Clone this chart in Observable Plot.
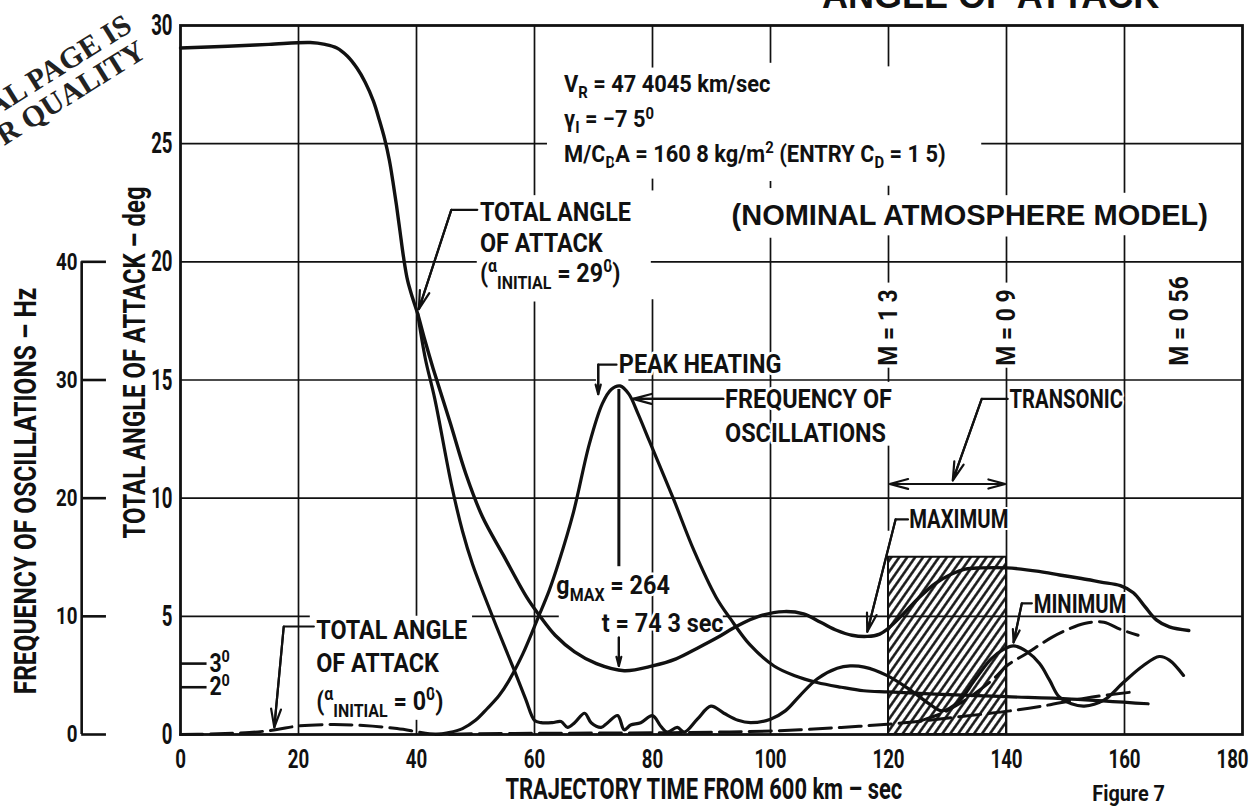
<!DOCTYPE html>
<html>
<head>
<meta charset="utf-8">
<script src="https://cdn.jsdelivr.net/npm/d3@7"></script>
<script src="https://cdn.jsdelivr.net/npm/@observablehq/plot@0.6"></script>
<style>
html,body{margin:0;padding:0;background:#fff;}
svg{display:block;}
</style>
</head>
<body>
<div id="chart"></div>
<script>
// ---------------- data ----------------
const timeTicks = [0, 20, 40, 60, 80, 100, 120, 140, 160, 180];
const angleTicks = [0, 5, 10, 15, 20, 25, 30];
const freqTicksHz = [0, 10, 20, 30, 40];
const smallAngleMarks = [3, 2];

// total angle of attack, alpha initial = 29 deg : maximum envelope [time s, deg]
const maxAngle29 = [[0,29.05],[8,29.12],[15,29.2],[22,29.28],[24.5,29.2],[26.5,29.05],[28.3,28.7],[29.9,28.2],[31.3,27.6],[32.7,26.8],[33.7,26.0],[34.6,25.2],[35.4,24.3],[36.0,23.4],[36.6,22.4],[37.2,21.3],[37.8,20.2],[38.5,19.2],[39.3,18.5],[40.2,17.8],[41.4,16.7],[42.8,15.5],[45.7,13.2],[48.4,11.0],[51.2,9.2],[54.7,7.6],[58.7,5.8],[60.8,5.05],[63.5,4.2],[66.8,3.5],[70.5,3.0],[75.2,2.7],[80,2.9],[84,3.2],[87.6,3.65],[91,4.1],[94.4,4.6],[98,5.0],[102.3,5.2],[105.6,5.1],[108.5,4.75],[111.3,4.4],[113.8,4.2],[116.4,4.15],[118.5,4.25],[120,4.5],[122.5,5.1],[125.2,5.8],[128,6.4],[130.8,6.8],[133,7.0],[135.7,7.05],[140,7.05],[145.5,6.9],[149,6.75],[152.7,6.6],[156,6.45],[159.3,6.3],[161.5,6.0],[163.5,5.4],[165.4,4.85],[167.6,4.55],[170.9,4.4]];
// minimum envelope (oscillating) [time s, deg]
const minAngle29 = [[40.2,17.8],[41.5,15.9],[43.1,14.2],[45.9,10.6],[47.8,8.6],[49.5,7.2],[51.3,6.0],[53.5,4.6],[56.6,2.7],[58.5,1.5],[60,0.6],[61.1,0.5],[63,0.5],[64.5,0.55],[65.6,0.3],[66.8,0.5],[68.5,0.9],[69.6,0.5],[71.3,0.3],[72.4,0.5],[74.1,0.8],[75.2,0.2],[76.3,0.4],[78,0.5],[80,0.8],[81.4,0.35],[82.5,0.1],[84.2,0.3],[85.4,0.1],[87.6,0.65],[89.9,1.2],[92.1,0.9],[94.5,0.6],[96.6,0.5],[100,0.65],[102.5,1.0],[105,1.65],[107.9,2.35],[111.3,2.8],[113.5,2.9],[115.9,2.85],[119.7,2.5],[123.6,1.9],[126.9,1.3],[129.1,1.0],[131.9,1.4],[134.6,2.3],[137.4,3.2],[139.5,3.6],[141.2,3.75],[143.5,3.5],[145.6,3.0],[147.3,2.3],[148.9,1.6],[151,1.3],[153.2,1.2],[156.5,1.45],[159.8,2.2],[163.1,2.9],[165.9,3.3],[167.6,3.15],[170,2.5]];
// frequency of oscillations [time s, Hz]
const freqOscHz = [[43.3,0],[45.5,0.16],[47.8,0.5],[50,1.2],[52,2.2],[54,3.3],[55.6,4.5],[58,6.8],[60.7,10.0],[62.5,12.2],[64,14.4],[66.6,18.8],[69.3,24.6],[71.5,28.0],[73,29.2],[74.5,29.5],[76,28.8],[77.5,27.2],[79.5,24.8],[83.5,20.0],[87,15.6],[90.8,11.6],[93.2,9.8],[96.5,7.6],[100.6,5.8],[104,5.0],[107.9,4.4],[112,4.0],[115.8,3.7],[120,3.6],[129,3.4],[140,3.2],[151,3.0],[164,2.6]];
// total angle of attack, alpha initial = 0 deg (dashed) [time s, deg]
const angle0Lower = [[0,0],[5,0.02],[8.9,0.05],[11.7,0.08],[16.1,0.2],[20,0.36],[25.6,0.42],[31,0.38],[36.7,0.25],[40,0.12],[42.2,0.03],[50,0.03],[60,0.05],[70,0.06],[80,0.07],[90,0.1],[96,0.12],[105,0.2],[112,0.3],[118,0.4],[125,0.55],[132,0.75],[140.6,1.0],[146,1.2],[153.6,1.55],[161.4,1.8]];
const angle0Upper = [[125,0.55],[129,0.9],[132,1.3],[135,1.8],[138,2.4],[140,2.9],[143.2,3.4],[147.6,4.1],[150,4.4],[153.2,4.7],[156.5,4.75],[159.3,4.45],[162.3,4.2]];

const transonic = {start: 120, end: 140, top: 7.5, arrowAt: 10.6, arrowFrom: 130.9};
const peakTime = 74.3;
const peakLine = {from: 7.1, to: 14.6};
const machLines = [{t: 120, label: "M = 1 3"}, {t: 140, label: "M = 0 9"}, {t: 169.3, label: "M = 0 56"}];
const machBase = 15.6;

// grid segments (time or angle values)
const gridVertical = [
  {t:20, from:0, to:30},
  {t:40, from:0, to:0.6}, {t:40, from:5, to:30},
  {t:60, from:0, to:18.3}, {t:60, from:22.8, to:30},
  {t:80, from:0, to:18.4}, {t:80, from:23.0, to:23.5}, {t:80, from:28.2, to:30},
  {t:100, from:0, to:21.0}, {t:100, from:23.1, to:23.4}, {t:100, from:28.4, to:30},
  {t:120, from:8.6, to:12.2}, {t:120, from:14.9, to:15.5}, {t:120, from:19.1, to:21.1}, {t:120, from:22.8, to:23.2}, {t:120, from:28.25, to:30},
  {t:140, from:0, to:15.5}, {t:140, from:19.1, to:21.05}, {t:140, from:22.8, to:30},
  {t:160, from:0, to:21.1}, {t:160, from:22.9, to:30}
];
const gridHorizontal = [
  {a:5, from:0, to:22}, {a:5, from:49.5, to:64.2}, {a:5, from:92, to:180},
  {a:10, from:0, to:180},
  {a:15, from:0, to:70.5}, {a:15, from:76, to:180},
  {a:20, from:0, to:50.3}, {a:20, from:79.8, to:180},
  {a:25, from:0, to:62.2}, {a:25, from:135.8, to:180}
];

// annotation texts
const calloutLabels = [
  {x:50.75, y:22.1, text:"TOTAL ANGLE"},
  {x:50.75, y:20.75, text:"OF ATTACK"},
  {x:50.75, y:19.5, text:"(^{α}_{INITIAL} = 29^{0})"},
  {x:23.0, y:4.4, text:"TOTAL ANGLE"},
  {x:23.0, y:3.0, text:"OF ATTACK"},
  {x:23.0, y:1.4, text:"(^{α}_{INITIAL} = 0^{0})"},
  {x:74.3, y:15.63, text:"PEAK HEATING"},
  {x:92.3, y:14.15, text:"FREQUENCY OF"},
  {x:92.3, y:12.75, text:"OSCILLATIONS"},
  {x:63.7, y:6.28, text:"g_{MAX} = 264"},
  {x:71.4, y:4.7, text:"t = 74 3 sec"}
];
const regionLabels = [
  {x:140.5, y:14.15, text:"TRANSONIC"},
  {x:123.5, y:9.07, text:"MAXIMUM"},
  {x:144.6, y:5.5, text:"MINIMUM"}
];
const paramLines = [
  {x:65, y:27.5, text:"V_{R} = 47 4045 km/sec"},
  {x:65, y:26.0, text:"γ_{I} = −7 5^{0}"},
  {x:65, y:24.55, text:"M/C_{D}A = 160 8 kg/m^{2} (ENTRY C_{D} = 1 5)"}
];
const modelNote = {x:93.4, y:21.95, text:"(NOMINAL ATMOSPHERE MODEL)"};
const leaders = [
  {id:"a29", pts:[[50.3,22.2],[45.9,22.2],[40.4,18.0]]},
  {id:"a0", pts:[[22.6,4.57],[17.5,4.57],[15.9,0.3]]},
  {id:"peak", pts:[[73.9,15.65],[70.8,15.65],[70.8,14.4]]},
  {id:"freq", pts:[[92.0,14.2],[76.7,14.2]]},
  {id:"trans", pts:[[140.2,14.2],[135.8,14.2],[130.9,10.75]]},
  {id:"max", pts:[[123.3,9.1],[121.2,9.1],[116.4,4.35]]},
  {id:"min", pts:[[144.3,5.55],[142.6,5.55],[141.2,3.9]]},
  {id:"tmark", pts:[[74.3,4.1],[74.3,2.9]]}
];
const titles = {
  x: {x:88.7, y:-2.33, text:"TRAJECTORY TIME FROM 600 km – sec"},
  angle: {x:-7.62, y:15.74, text:"TOTAL ANGLE OF ATTACK – deg"},
  freq: {x:-26.24, y:10.3, text:"FREQUENCY OF OSCILLATIONS – Hz"},
  top: {x:165.9, y:30.72, text:"ANGLE OF ATTACK"},
  figure: {x:160.7, y:-2.5, text:"Figure 7"}
};
const stamp = [
  {x:-7.96, y:29.8, text:"ORIGINAL PAGE IS"},
  {x:-5.59, y:28.7, text:"OF POOR QUALITY"}
];
const HZ_AXIS_X = -16.75;

// ---------------- drawing ----------------
const COND = "Roboto, 'Liberation Sans', Arial, sans-serif";
const INK = "#111";
const sq = f => `sq${f}`;
const flatLeaders = leaders.flatMap(l => l.pts.map(([x, y]) => ({id: l.id, x, y})));
const hzToDeg = hz => hz / 2;   // 40 Hz on the left scale sits at 20 deg
const lastTick = timeTicks[timeTicks.length - 1];

const halo = {stroke: "white", strokeWidth: 5, paintOrder: "stroke", strokeLinejoin: "round"};

const chart = Plot.plot({
  width: 1257,
  height: 810,
  marginTop: 25,
  marginRight: 15,
  marginBottom: 76,
  marginLeft: 180,
  x: {domain: [0, 180], axis: null},
  y: {domain: [0, 30], axis: null},
  style: {fontFamily: COND, background: "white", color: INK},
  marks: [
    // transonic hatched band
    Plot.rect([transonic], {x1: "start", x2: "end", y1: 0, y2: "top", fill: "url(#hatch)", stroke: INK, strokeWidth: 2}),
    // grid
    Plot.ruleX(gridVertical, {x: "t", y1: "from", y2: "to", stroke: INK, strokeWidth: 1.7}),
    Plot.ruleY(gridHorizontal, {y: "a", x1: "from", x2: "to", stroke: INK, strokeWidth: 1.7}),
    Plot.frame({stroke: INK, strokeWidth: 2.8}),

    // annotation texts (white halo cuts the grid)
    Plot.text(calloutLabels, {x: "x", y: "y", text: "text", textAnchor: "start", fontSize: 26, fontWeight: "bold", fill: INK, ...halo, ariaDescription: sq(0.9)}),
    Plot.text(regionLabels, {x: "x", y: "y", text: "text", textAnchor: "start", fontSize: 26, fontWeight: "bold", fill: INK, ...halo, strokeWidth: 4, ariaDescription: sq(0.78)}),
    Plot.text(paramLines, {x: "x", y: "y", text: "text", textAnchor: "start", fontSize: 23, fontWeight: "bold", fill: INK, ...halo, ariaDescription: sq(0.95)}),
    Plot.text([modelNote], {x: "x", y: "y", text: "text", textAnchor: "start", fontSize: 29, fontWeight: "bold", fontFamily: "'Liberation Sans', Arial, sans-serif", fill: INK}),
    Plot.text(machLines, {x: "t", y: () => machBase, text: "label", rotate: -90, textAnchor: "start", fontSize: 26, fontWeight: "bold", fill: INK, ...halo, ariaDescription: sq(0.88)}),

    // curves
    Plot.line(angle0Lower, {x: d => d[0], y: d => d[1], curve: "catmull-rom", stroke: INK, strokeWidth: 3, strokeDasharray: "22,8"}),
    Plot.line(angle0Upper, {x: d => d[0], y: d => d[1], curve: "catmull-rom", stroke: INK, strokeWidth: 3, strokeDasharray: "22,8"}),
    Plot.line(freqOscHz, {x: d => d[0], y: d => hzToDeg(d[1]), curve: "catmull-rom", stroke: INK, strokeWidth: 3.2}),
    Plot.line(minAngle29, {x: d => d[0], y: d => d[1], curve: "catmull-rom", stroke: INK, strokeWidth: 3.2}),
    Plot.line(maxAngle29, {x: d => d[0], y: d => d[1], curve: "catmull-rom", stroke: INK, strokeWidth: 3.4}),

    // peak-g time line and leaders
    Plot.ruleX([peakTime], {y1: peakLine.from, y2: peakLine.to, stroke: INK, strokeWidth: 3}),
    Plot.line(flatLeaders, {x: "x", y: "y", z: "id", stroke: INK, strokeWidth: 2.2}),
    Plot.arrow(leaders, {
      x1: d => d.pts[d.pts.length - 2][0], y1: d => d.pts[d.pts.length - 2][1],
      x2: d => d.pts[d.pts.length - 1][0], y2: d => d.pts[d.pts.length - 1][1],
      stroke: INK, strokeWidth: 2.2, headLength: 13, headAngle: 30
    }),
    Plot.arrow([transonic.start, transonic.end], {
      x1: () => transonic.arrowFrom, y1: () => transonic.arrowAt,
      x2: d => d === transonic.start ? d + 0.2 : d - 0.2, y2: () => transonic.arrowAt,
      stroke: INK, strokeWidth: 2.2, headLength: 13, headAngle: 30
    }),

    // small-angle reference ticks (3°, 2°)
    Plot.ruleY(smallAngleMarks, {y: d => d, x1: 0, x2: 4.5, stroke: INK, strokeWidth: 2.6}),
    Plot.text(smallAngleMarks, {x: 4.9, y: d => d, text: d => `${d}^{0}`, textAnchor: "start", fontSize: 25, fontWeight: "bold", fill: INK, ariaDescription: sq(0.85)}),

    // angle axis labels
    Plot.text(angleTicks, {x: 0, y: d => d, dx: -8, text: d => String(d), textAnchor: "end", fontSize: 30, fontWeight: "bold", fill: INK, ariaDescription: sq(0.62)}),
    // time axis labels (last one nudged inside the page)
    Plot.text(timeTicks.filter(t => t !== lastTick), {x: d => d, y: 0, dy: 25, text: d => String(d), fontSize: 26, fontWeight: "bold", fill: INK, ariaDescription: sq(0.72)}),
    Plot.text([lastTick], {x: d => d, y: 0, dy: 25, dx: -10, text: d => String(d), fontSize: 26, fontWeight: "bold", fill: INK, ariaDescription: sq(0.72)}),
    // frequency axis (left)
    Plot.ruleX([HZ_AXIS_X], {y1: 0, y2: hzToDeg(d3.max(freqTicksHz)), stroke: INK, strokeWidth: 2.6}),
    Plot.ruleY(freqTicksHz, {y: d => hzToDeg(d), x1: HZ_AXIS_X, x2: HZ_AXIS_X + 4.2, stroke: INK, strokeWidth: 2.6}),
    Plot.text(freqTicksHz, {x: HZ_AXIS_X - 0.7, y: d => hzToDeg(d), text: d => String(d), textAnchor: "end", fontSize: 24, fontWeight: "bold", fill: INK, ariaDescription: sq(0.78)}),

    // axis titles and captions
    Plot.text([titles.x], {x: "x", y: "y", text: "text", fontSize: 30, fontWeight: "bold", fill: INK, ariaDescription: sq(0.73)}),
    Plot.text([titles.angle], {x: "x", y: "y", text: "text", rotate: -90, fontSize: 31, fontWeight: "bold", fill: INK, ariaDescription: sq(0.77)}),
    Plot.text([titles.freq], {x: "x", y: "y", text: "text", rotate: -90, fontSize: 31, fontWeight: "bold", fill: INK, ariaDescription: sq(0.79)}),
    Plot.text([titles.top], {x: "x", y: "y", text: "text", textAnchor: "end", lineAnchor: "bottom", fontSize: 36, fontWeight: "bold", fontFamily: "'Liberation Sans', Arial, sans-serif", fill: INK}),
    Plot.text([titles.figure], {x: "x", y: "y", text: "text", fontSize: 22, fontWeight: "bold", fill: INK, ariaDescription: sq(0.9)}),
    Plot.text(stamp, {x: "x", y: "y", text: "text", rotate: -32, textAnchor: "end", lineAnchor: "bottom", fontSize: 30, fontWeight: "bold", fontFamily: "'Liberation Serif', 'DejaVu Serif', serif", fill: "#222"})
  ]
});

document.getElementById("chart").appendChild(chart);

// hatch pattern for the transonic band
d3.select(chart).insert("defs", ":first-child").html(
  '<pattern id="hatch" patternUnits="userSpaceOnUse" width="6.5" height="6.5" patternTransform="rotate(35)">' +
  '<line x1="3.25" y1="-1" x2="3.25" y2="7.5" stroke="#111" stroke-width="2.5"/></pattern>'
);

// sub/superscripts: _{..} and ^{..}
function applyRichText(root) {
  root.querySelectorAll("text").forEach(el => {
    if (el.querySelector("tspan")) return;
    const s = el.textContent;
    if (!/[_^]\{/.test(s)) return;
    const fs = parseFloat(getComputedStyle(el).fontSize) || 16;
    const parts = [];
    const re = /([_^])\{([^}]*)\}/g;
    let last = 0, m;
    while ((m = re.exec(s)) !== null) {
      if (m.index > last) parts.push([0, s.slice(last, m.index)]);
      parts.push([m[1] === "_" ? 1 : -1, m[2]]);
      last = re.lastIndex;
    }
    if (last < s.length) parts.push([0, s.slice(last)]);
    el.textContent = "";
    let cur = 0;
    for (const [k, t] of parts) {
      const ts = document.createElementNS("http://www.w3.org/2000/svg", "tspan");
      const target = k === 1 ? 0.26 * fs : k === -1 ? -0.38 * fs : 0;
      if (target !== cur) ts.setAttribute("dy", (target - cur).toFixed(2));
      cur = target;
      if (k) ts.setAttribute("font-size", (0.68 * fs).toFixed(2));
      ts.textContent = t;
      el.appendChild(ts);
    }
  });
}
// condensed lettering: squeeze glyphs horizontally
function applySqueeze(root) {
  root.querySelectorAll("g[aria-description]").forEach(g => {
    const m = /sq([\d.]+)/.exec(g.getAttribute("aria-description"));
    if (!m) return;
    const f = +m[1];
    g.querySelectorAll("text").forEach(el => {
      const L = el.getComputedTextLength();
      if (L > 0) {
        el.setAttribute("textLength", (L * f).toFixed(2));
        el.setAttribute("lengthAdjust", "spacingAndGlyphs");
      }
    });
  });
}
applyRichText(chart);
applySqueeze(chart);
</script>
</body>
</html>
